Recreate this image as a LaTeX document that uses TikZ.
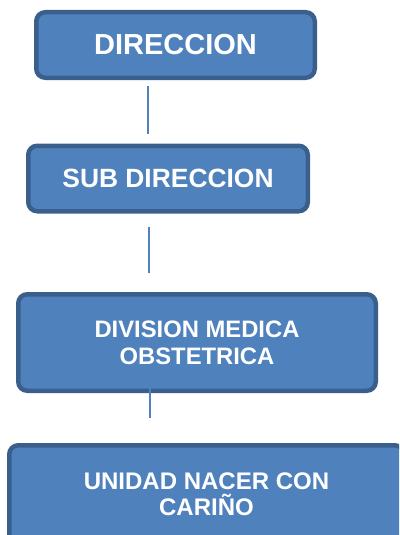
\documentclass[tikz,border=0pt]{standalone}
\usepackage{fontspec}
\setmainfont{Liberation Sans}
\usepackage{tikz}
\usetikzlibrary {positioning}

\definecolor{unitfill}{HTML}{4F81BD}
\definecolor{unitedge}{HTML}{3B5F8D}

\begin{document}
\begin{tikzpicture}[x=1pt,y=1pt,
    unitbox/.style={rectangle,rounded corners=9pt,line width=4.5pt,draw=unitedge,fill=unitfill,
                    text=white,align=center,inner sep=0pt},
    link/.style={line width=1.6pt,draw=unitfill},
   ]
    \useasboundingbox (0,0) rectangle (399,-535);
    \clip (0,0) rectangle (399,-535);

    \node (dir) [unitbox,style={minimum width=278.5pt,minimum height=65.5pt},
        font={\fontsize{29}{33}\selectfont\bfseries}] at (175.5,-45) {DIRECCION};
    \node (subdir) [unitbox,style={minimum width=279.5pt,minimum height=65.5pt},
        font={\fontsize{26.4}{30}\selectfont\bfseries}] at (168,-178.5) {SUB DIRECCION};
    \node (divmed) [unitbox,style={minimum width=357.5pt,minimum height=96.5pt},
        font={\fontsize{23.8}{27}\selectfont\bfseries}] at (197,-342.5) {DIVISION MEDICA\\OBSTETRICA};
    \node (nacer) [unitbox,style={minimum width=394.5pt,minimum height=97.5pt},
        font={\fontsize{24}{26}\selectfont\bfseries}] at (206.5,-494) {UNIDAD NACER CON\\CARIÑO};

    \coordinate (top1) at (148,-86);
    \coordinate (bot1) at (148,-134);
    \coordinate (top2) at (149,-227);
    \coordinate (bot2) at (149,-273);
    \coordinate (top3) at (150,-370);
    \coordinate (bot3) at (150,-418);

    \draw[link] (top1) -- (bot1);
    \draw[link] (top2) -- (bot2);
    \draw[link] (top3) -- (bot3);
  \end{tikzpicture}
\end{document}
